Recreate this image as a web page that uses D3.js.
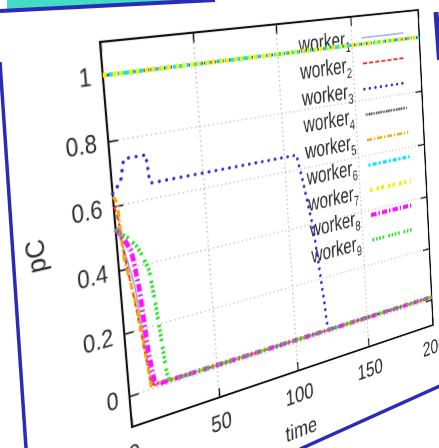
<!DOCTYPE html>
<html lang="en">
<head>
<meta charset="utf-8">
<title>pC per worker</title>
<script src="https://d3js.org/d3.v7.min.js"></script>
<style>
body{margin:0;background:#fff;overflow:hidden;}
#wrap{position:relative;width:439px;height:448px;overflow:hidden;background:#fff;}
#slide,#chart{position:absolute;left:0;top:0;}
#chart{transform-origin:0 0;}
#chart text{font-family:"Liberation Sans",Arial,Helvetica,sans-serif;fill:#2a2a2a;}
</style>
</head>
<body>
<div id="wrap">
  <svg id="slide" width="439" height="448"></svg>
  <div id="chart"></div>
</div>
<script>
// values
var time    = [0, 1, 2, 3, 5, 7, 8, 10, 12, 14, 16, 18, 19, 20, 21, 22, 50, 100, 106, 108, 111, 116, 120, 122, 150, 200]
var worker1 = [0.52, 0.52, 0.50, 0.47, 0.42, 0.36, 0.32, 0.18, 0.04, 0.01, 0.01, 0.01, 0.01, 0.01, 0.01, 0.01, 0.01, 0.01, 0.01, 0.01, 0.01, 0.01, 0.01, 0.01, 0.01, 0.01]
var worker2 = [0.60, 0.58, 0.55, 0.47, 0.38, 0.29, 0.24, 0.13, 0.02, 0.01, 0.01, 0.01, 0.01, 0.01, 0.01, 0.01, 0.01, 0.01, 0.01, 0.01, 0.01, 0.01, 0.01, 0.01, 0.01, 0.01]
var worker3 = [0.64, 0.65, 0.655, 0.66, 0.68, 0.735, 0.74, 0.74, 0.74, 0.74, 0.74, 0.74, 0.74, 0.655, 0.65, 0.65, 0.65, 0.65, 0.65, 0.65, 0.56, 0.39, 0.15, 0.01, 0.01, 0.01]
var worker4 = [1, 1, 1, 1, 1, 1, 1, 1, 1, 1, 1, 1, 1, 1, 1, 1, 1, 1, 1, 1, 1, 1, 1, 1, 1, 1]
var worker5 = [0.63, 0.62, 0.61, 0.44, 0.37, 0.30, 0.26, 0.15, 0.01, 0.01, 0.01, 0.01, 0.01, 0.01, 0.01, 0.01, 0.01, 0.01, 0.01, 0.01, 0.01, 0.01, 0.01, 0.01, 0.01, 0.01]
var worker6 = [1, 1, 1, 1, 1, 1, 1, 1, 1, 1, 1, 1, 1, 1, 1, 1, 1, 1, 1, 1, 1, 1, 1, 1, 1, 1]
var worker7 = [1, 1, 1, 1, 1, 1, 1, 1, 1, 1, 1, 1, 1, 1, 1, 1, 1, 1, 1, 1, 1, 1, 1, 1, 1, 1]
var worker8 = [0.53, 0.52, 0.515, 0.50, 0.48, 0.455, 0.42, 0.32, 0.12, 0.02, 0.01, 0.01, 0.01, 0.01, 0.01, 0.01, 0.01, 0.01, 0.01, 0.01, 0.01, 0.01, 0.01, 0.01, 0.01, 0.01]
var worker9 = [0.53, 0.52, 0.515, 0.51, 0.50, 0.49, 0.48, 0.465, 0.443, 0.41, 0.377, 0.26, 0.19, 0.115, 0.04, 0.01, 0.01, 0.01, 0.01, 0.01, 0.01, 0.01, 0.01, 0.01, 0.01, 0.01]

var workers = [worker1, worker2, worker3, worker4, worker5, worker6, worker7, worker8, worker9]
var xTicks = [0, 50, 100, 150, 200]
var yTicks = [0, 0.2, 0.4, 0.6, 0.8, 1]
var xGrid = [50, 100, 150]
var yGrid = [0, 0.2, 0.4, 0.6, 0.8]

// line look for each worker (colour, width, dashes)
var styles = [
  {c:"#8ea2e6", w:1.6, d:null},
  {c:"#ff1a1a", w:2,   d:"6,3"},
  {c:"#2a2ad8", w:3.5, d:"0.1,8", cap:"round"},
  {c:"#444444", w:3,   d:"1.5,1"},
  {c:"#ffa500", w:3,   d:"7,3,2,3"},
  {c:"#12e4ee", w:4,   d:"3,3,6,3"},
  {c:"#f2f200", w:5,   d:"4,6,4,3"},
  {c:"#ff10ff", w:5,   d:"8,3,2,3"},
  {c:"#1ee41e", w:4,   d:"2.5,2.5,2.5,2.5,2.5,2.5,2.5,6"}
]

// slide background bits around the photographed chart
var slide = d3.select("#slide")
slide.append("polygon").attr("points","7,0 205,0 7,10").attr("fill","#42dcc4")
slide.append("path").attr("d","M0,11L215,0").attr("stroke","#2b2bb8").attr("stroke-width",4)
slide.append("path").attr("d","M0,62L26,448").attr("stroke","#2b2bb8").attr("stroke-width",3.5)
slide.append("path").attr("d","M436,12L439.5,60").attr("stroke","#2b2bb8").attr("stroke-width",5)
slide.append("path").attr("d","M300,449L440,386").attr("stroke","#2b2bb8").attr("stroke-width",3.5)

var w = 400, h = 384
var ml = 120, mt = 20, mr = 60, mb = 110

var xScale = d3.scaleLinear().domain([0,200]).range([0,w])
var yScale = d3.scaleLinear().domain([-0.1,1.1]).range([h,0])

var svg = d3.select("#chart").append("svg")
    .attr("width", ml+w+mr)
    .attr("height", mt+h+mb)
var g = svg.append("g").attr("transform","translate("+ml+","+mt+")")

// grid
g.selectAll(".gx").data(xGrid).enter().append("line")
    .attr("x1",function(d){return xScale(d)}).attr("x2",function(d){return xScale(d)})
    .attr("y1",0).attr("y2",h)
    .attr("stroke","#a0a0a0").attr("stroke-width",1.2).attr("stroke-dasharray","1.5,3.5")
g.selectAll(".gy").data(yGrid).enter().append("line")
    .attr("y1",function(d){return yScale(d)}).attr("y2",function(d){return yScale(d)})
    .attr("x1",0).attr("x2",w)
    .attr("stroke","#a0a0a0").attr("stroke-width",1.2).attr("stroke-dasharray","1.5,3.5")

// axes, ticks pointing in, mirrored on top/right
function styleAxis(sel){
  sel.select(".domain").remove()
  sel.selectAll(".tick line").attr("stroke","#111").attr("stroke-width",1.6)
  sel.selectAll(".tick text").attr("font-size",25).attr("fill","#2a2a2a")
    .attr("transform","scale(0.9,1)")
}
g.append("g").attr("transform","translate(0,"+h+")")
    .call(d3.axisBottom(xScale).tickValues(xTicks).tickSize(-10).tickPadding(18))
    .call(styleAxis)
g.append("g")
    .call(d3.axisLeft(yScale).tickValues(yTicks).tickSize(-10).tickPadding(13).tickFormat(d3.format("~g")))
    .call(styleAxis)
g.append("g")
    .call(d3.axisTop(xScale).tickValues(xTicks).tickSize(-10).tickFormat(""))
    .call(styleAxis)
g.append("g").attr("transform","translate("+w+",0)")
    .call(d3.axisRight(yScale).tickValues(yTicks).tickSize(-10).tickFormat(""))
    .call(styleAxis)

g.append("rect").attr("width",w).attr("height",h)
    .attr("fill","none").attr("stroke","#111").attr("stroke-width",2.2)

g.append("text").attr("transform","translate("+(w/2)+","+(h+76)+") scale(0.9,1)")
    .attr("text-anchor","middle").attr("font-size",25).text("time")
g.append("text").attr("transform","translate(-81,"+(h/2)+") rotate(-90)")
    .attr("text-anchor","middle").attr("dy","0.35em").attr("font-size",25).text("pC")

// key
var key = g.selectAll(".key").data(workers).enter().append("g")
    .attr("transform",function(d,i){return "translate(0,"+(25+29.3*i)+")"})
var kt = key.append("text").attr("transform","translate(298,8) scale(0.84,1)")
    .attr("text-anchor","end").attr("font-size",25)
kt.append("tspan").text("worker")
kt.append("tspan").attr("font-size",16).attr("dy",6).text(function(d,i){return i+1})
key.append("line").attr("x1",314).attr("x2",376).attr("y1",0).attr("y2",0)
    .attr("stroke",function(d,i){return styles[i].c})
    .attr("stroke-width",function(d,i){return styles[i].w})
    .attr("stroke-dasharray",function(d,i){return styles[i].d})
    .attr("stroke-linecap",function(d,i){return styles[i].cap || "butt"})

// curves
var line = d3.line()
    .x(function(d,i){return xScale(time[i])})
    .y(function(d){return yScale(d)})
g.selectAll(".worker").data(workers).enter().append("path")
    .attr("d",line)
    .attr("fill","none")
    .attr("stroke",function(d,i){return styles[i].c})
    .attr("stroke-width",function(d,i){return styles[i].w})
    .attr("stroke-dasharray",function(d,i){return styles[i].d})
    .attr("stroke-linecap",function(d,i){return styles[i].cap || "butt"})

// the photo is taken at an angle: map the plot frame onto the four corners seen
var corners = [[100,42],[418,10],[433,325],[132,427]]  // TL, TR, BR, BL
function squareToQuad(q){
  var x0=q[0][0],y0=q[0][1],x1=q[1][0],y1=q[1][1],x2=q[2][0],y2=q[2][1],x3=q[3][0],y3=q[3][1]
  var dx1=x1-x2, dx2=x3-x2, dx3=x0-x1+x2-x3
  var dy1=y1-y2, dy2=y3-y2, dy3=y0-y1+y2-y3
  var den=dx1*dy2-dx2*dy1
  var gg=(dx3*dy2-dx2*dy3)/den
  var hh=(dx1*dy3-dx3*dy1)/den
  return {a:x1-x0+gg*x1, b:x3-x0+hh*x3, c:x0, d:y1-y0+gg*y1, e:y3-y0+hh*y3, f:y0, g:gg, h:hh}
}
var m = squareToQuad(corners)
var n11=m.a/w, n12=m.b/h, n13=m.c-m.a*ml/w-m.b*mt/h
var n21=m.d/w, n22=m.e/h, n23=m.f-m.d*ml/w-m.e*mt/h
var n31=m.g/w, n32=m.h/h, n33=1-m.g*ml/w-m.h*mt/h
d3.select("#chart").style("transform",
  "matrix3d("+[n11,n21,0,n31, n12,n22,0,n32, 0,0,1,0, n13,n23,0,n33].join(",")+")")
</script>
</body>
</html>
